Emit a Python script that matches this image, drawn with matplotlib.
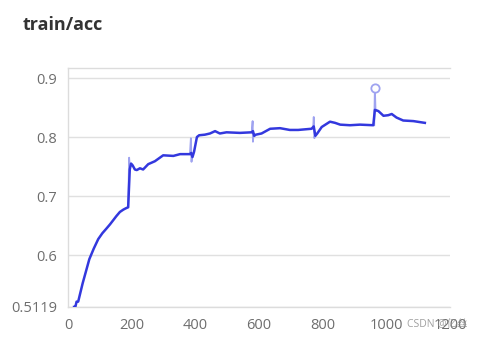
import matplotlib
matplotlib.use("Agg")
import matplotlib.pyplot as plt

# ---- data ----
title = "train/acc"
smooth_x = [19, 23, 27, 32, 46, 67, 81, 95, 108, 121, 132, 142, 152, 163, 174, 181, 189, 194, 198, 203, 210,
            216, 226, 236, 252, 273, 299, 331, 352, 383, 387, 391, 396, 405, 412, 430, 446, 462, 477, 498, 540,
            577, 581, 585, 590, 608, 635, 666, 697, 723, 765, 772, 777, 783, 797, 823, 839, 855, 886, 917, 959,
            964, 975, 991, 1006, 1017, 1032, 1053, 1085, 1121]
smooth_y = [0.512, 0.512, 0.521, 0.521, 0.552, 0.593, 0.611, 0.627, 0.637, 0.645, 0.652, 0.659, 0.666, 0.673,
            0.677, 0.679, 0.681, 0.745, 0.755, 0.752, 0.745, 0.744, 0.747, 0.745, 0.754, 0.759, 0.769, 0.768,
            0.771, 0.771, 0.773, 0.766, 0.775, 0.800, 0.803, 0.804, 0.806, 0.810, 0.806, 0.808, 0.807, 0.808,
            0.810, 0.802, 0.804, 0.806, 0.814, 0.815, 0.812, 0.812, 0.814, 0.818, 0.802, 0.806, 0.817, 0.826,
            0.824, 0.821, 0.820, 0.821, 0.820, 0.846, 0.844, 0.836, 0.837, 0.839, 0.833, 0.828, 0.827, 0.824]
raw_x = [189, 192, 194, 383, 386, 388, 390, 577, 580, 581, 583, 770, 772, 774, 776, 962, 964, 966, 970]
raw_y = [0.681, 0.765, 0.752, 0.771, 0.798, 0.758, 0.768, 0.808, 0.827, 0.792, 0.805, 0.814, 0.834, 0.798,
         0.804, 0.820, 0.8826, 0.846, 0.845]
hover_x = [964]
hover_y = [0.8826]
xticks = [0, 200, 400, 600, 800, 1000, 1200]
yticks = [0.5119, 0.6, 0.7, 0.8, 0.9]
ytick_labels = ["0.5119", "0.6", "0.7", "0.8", "0.9"]
watermark = "CSDN @亿丝"

plt.rcParams['font.family'] = ['Open Sans', 'Noto Sans CJK SC', 'DejaVu Sans']

fig = plt.figure(figsize=(4.85, 3.41), dpi=100)
ax = fig.add_axes([68 / 485, 34 / 341, 382 / 485, 239 / 341])

line_c = "#3338de"
raw_c = "#9fa3f0"

groups = [(0, 3), (3, 7), (7, 11), (11, 15), (15, 19)]
for a, b in groups:
    ax.plot(raw_x[a:b], raw_y[a:b], color=raw_c, lw=1.3, zorder=2)
ax.plot(smooth_x, smooth_y, color=line_c, lw=1.8, zorder=3)
ax.plot(hover_x, hover_y, marker="o", ms=6, mfc="white", mec=raw_c, mew=1.3, ls="none", zorder=4)

ax.set_xlim(0, 1200)
ax.set_ylim(0.5119, 0.917)
ax.set_xticks(xticks)
ax.set_yticks(yticks)
ax.set_yticklabels(ytick_labels)
ax.grid(axis="y", color="#e0e0e0", lw=1)
ax.set_axisbelow(True)
ax.tick_params(length=0, labelsize=10.5, colors="#6e6e6e", pad=8)
ax.spines["right"].set_visible(False)
for s in ["left", "bottom", "top"]:
    ax.spines[s].set_color("#dcdcdc")
    ax.spines[s].set_linewidth(1)

fig.text(23 / 485, 1 - 25 / 341, title, fontsize=13, fontweight="bold", color="#333333",
         ha="left", va="center")
fig.text(437 / 485, 1 - 324 / 341, watermark, fontsize=7.5, color="#888888", alpha=0.8,
         ha="center", va="center")

fig.savefig("out.png", dpi=100, facecolor="white")
